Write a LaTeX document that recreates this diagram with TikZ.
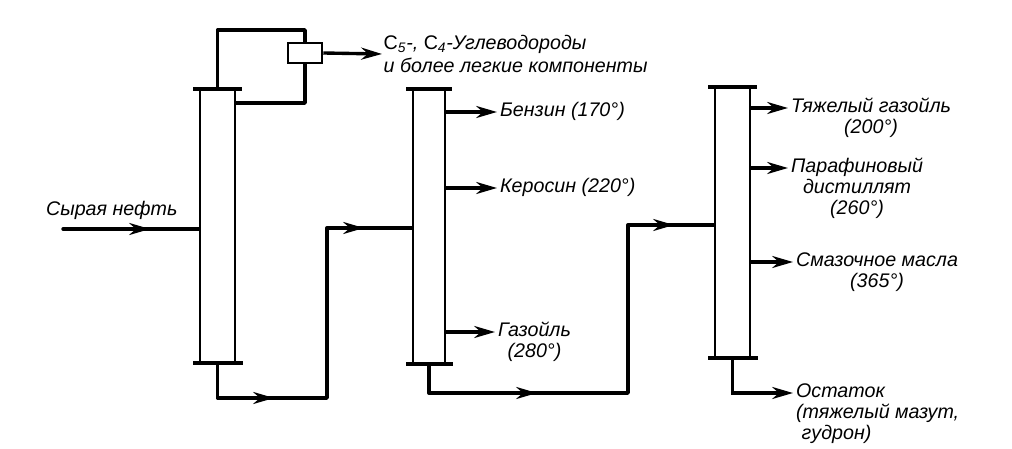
\documentclass[tikz,border=0pt]{standalone}
\usepackage{fontspec}
\setmainfont{Liberation Sans}
\usetikzlibrary{arrows.meta,positioning,calc}
\tikzset{
  colwall/.style={draw, line width=1.4pt, minimum width=8.75mm, inner sep=0pt},
  capln/.style={line width=2.2pt},
  pipeln/.style={line width=2.4pt, line cap=round, line join=round},
  flowln/.style={-{Stealth[length=5.2mm,width=3mm]}, line width=2.4pt},
  lbl/.style={font=\fontsize{14}{14}\selectfont\itshape, inner xsep=2pt, inner ysep=0.5pt,
    text height=10pt, text depth=3.5pt},
}
\newcommand{\colcaps}[1]{%
  \draw[capln] ($(#1.north west)+(-6,0)$) -- ($(#1.north east)+(6,0)$);
  \draw[capln] ($(#1.south west)+(-6,0)$) -- ($(#1.south east)+(7,0)$);
}

\begin{document}
\begin{tikzpicture}[x=0.25mm, y=-0.25mm]
  \useasboundingbox (0,0) rectangle (1012,449);
  % columns
  \node[colwall, minimum height=68mm] (col1) at (217.5,226) {};
  \node[colwall, minimum width=8mm, minimum height=68.25mm] (col2) at (429,226.5) {};
  \node[colwall, minimum height=67.25mm] (col3) at (732.5,222.5) {};
  \colcaps{col1}
  \colcaps{col2}
  \colcaps{col3}
  % overhead and condenser
  \node[draw, line width=1.8pt, minimum width=8.5mm, minimum height=5mm, inner sep=0pt] (cond) at (305,53) {};
  \coordinate (ovhd) at (217.5,30);
  \coordinate (refl) at (0,103);
  \draw[pipeln] (col1.north) -- (ovhd) -| (cond.north);
  \draw[pipeln] (cond.south) |- (col1.east |- refl);
  \node[font=\fontsize{14}{17}\selectfont\itshape, align=left, anchor=west, inner sep=1pt] (light) at (382,54)
    {{\upshape C}\textsubscript{5}-, {\upshape C}\textsubscript{4}-Углеводороды\\и более легкие компоненты};
  \draw[flowln] (cond.east) -- (light.west);
  % feed
  \coordinate (feed) at (63,229);
  \coordinate (a0) at (150,229);
  \node[lbl, anchor=south west] (crude) at (43,221) {Сырая нефть};
  \draw[pipeln] (feed) -- (col1.west |- feed);
  \draw[flowln] (feed) -- (a0);
  % col1 bottoms to col2
  \coordinate (j1) at (327,398);
  \coordinate (j2) at (327,228);
  \coordinate (a1) at (274,398);
  \coordinate (a2) at (364,228);
  \draw[pipeln] (col1.south) |- (j1) -- (j2) -- (col2.west |- j2);
  \draw[flowln] (col1.south |- j1) -- (a1);
  \draw[flowln] (j2) -- (a2);
  % col2 products
  \node[lbl, anchor=west] (benz) at (497,112) {Бензин (170°)};
  \node[lbl, anchor=west] (kero) at (497,188) {Керосин (220°)};
  \node[lbl, anchor=west] (gaso) at (495,332) {Газойль};
  \node[lbl, below=0pt of gaso] (gaso2) {(280°)};
  \draw[flowln] (col2.east |- benz) -- (benz.west);
  \draw[flowln] (col2.east |- kero) -- (kero.west);
  \draw[flowln] (col2.east |- gaso) -- (gaso.west);
  % col2 bottoms to col3
  \coordinate (j3) at (628,393);
  \coordinate (j4) at (628,225);
  \coordinate (a3) at (537,393);
  \coordinate (a4) at (674,225);
  \draw[pipeln] (col2.south) |- (j3) -- (j4) -- (col3.west |- j4);
  \draw[flowln] (col2.south |- j3) -- (a3);
  \draw[flowln] (j4) -- (a4);
  % col3 products
  \node[lbl, anchor=west] (hgo) at (788,108) {Тяжелый газойль};
  \node[lbl, below=0pt of hgo] (hgo2) {(200°)};
  \node[lbl, anchor=west] (paraf) at (788,168) {Парафиновый};
  \node[lbl, below=0pt of paraf] (paraf2) {дистиллят};
  \node[lbl, below=0pt of paraf2] (paraf3) {(260°)};
  \node[lbl, anchor=west] (lube) at (793,262) {Смазочное масла};
  \node[lbl, below=0pt of lube] (lube2) {(365°)};
  \node[lbl, anchor=west] (resid) at (793,393) {Остаток};
  \node[lbl, below=0pt of resid.south west, anchor=north west] (resid2) {(тяжелый мазут,};
  \node[lbl, below=0pt of resid2.south west, anchor=north west, xshift=4pt] (resid3) {гудрон)};
  \draw[flowln] (col3.east |- hgo) -- (hgo.west);
  \draw[flowln] (col3.east |- paraf) -- (paraf.west);
  \draw[flowln] (col3.east |- lube) -- (lube.west);
  \draw[flowln] (col3.south) |- (resid.west);
\end{tikzpicture}
\end{document}
